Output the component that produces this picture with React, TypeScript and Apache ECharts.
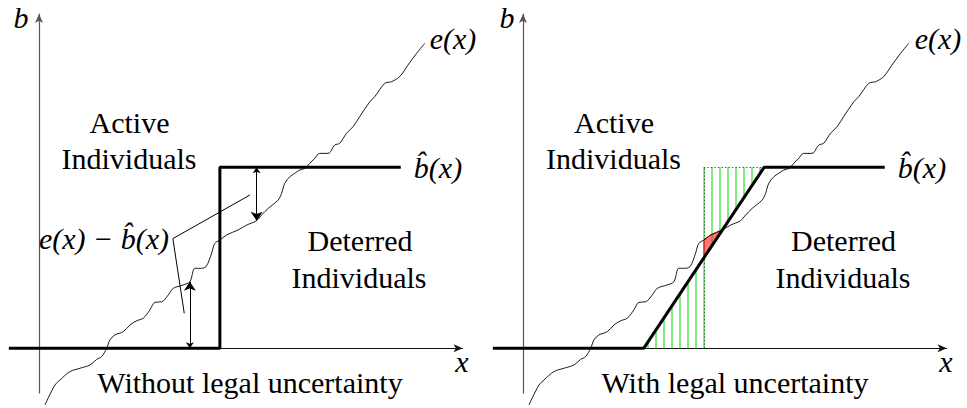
import React, { useEffect, useRef } from "react";
import * as echarts from "echarts";

// e(x): noisy rising curve (diagram units: b-hat step = 100)
const eX = [3.3, 8.8, 11.6, 17.1, 22.7, 28.2, 31.9, 34.6, 37.4, 39.2, 42.0, 46.6, 50.3, 54.0, 57.6, 61.3, 64.1, 67.8, 71.4, 74.2, 79.7, 83.4, 86.2, 89.0, 92.3, 95.4, 97.2, 100.0, 103.7, 110.1, 114.8, 120.3, 123.0, 126.7, 132.2, 134.1, 135.9, 138.7, 141.4, 144.2, 147.0, 149.7, 152.5, 155.2, 159.8, 163.5, 166.3, 170.0, 173.6, 177.3, 182.9, 185.6, 191.2, 194.9, 199.4, 204.0, 208.7, 213.3];
const eY = [-31.3, -20.3, -17.5, -12.9, -11.0, -9.2, -6.1, -4.6, 0, 4.6, 7.4, 9.2, 12.9, 15.2, 16.6, 21.2, 25.4, 25.7, 29.4, 33.1, 35.0, 36.8, 44.2, 44.2, 45.1, 52.5, 58.0, 59.8, 62.6, 65.4, 68.1, 70.5, 73.6, 77.3, 81.9, 85.6, 91.2, 94.8, 96.7, 98.5, 99.4, 102.2, 105.0, 107.7, 107.7, 112.3, 113.3, 118.8, 122.4, 128.0, 136.2, 139.0, 146.4, 147.3, 150.1, 156.5, 162.9, 168.5];

// b-hat without legal uncertainty (step)
const stepX = [-16.6, 100, 100, 200];
const stepY = [0, 0, 100, 100];
// b-hat with legal uncertainty (ramp)
const rampX = [-16.6, 66.7, 133.3, 200];
const rampY = [0, 0, 100, 100];

// threshold and hatching positions (right panel)
const cutoffX = 100;
const topB = 100;
const hatchX = [69.1, 73.5, 77.9, 82.3, 86.7, 91.2, 95.6, 104.4, 108.8, 113.3, 117.7, 122.1, 126.5, 130.9];
const redFromX = 100;
const redToX = 110.1;

// annotation arrows (left panel): [x, from, to]
const gapArrows = [
  [83.4, 0, 36.8],
  [120.3, 100, 70.5],
];
const leaderX = [116.6, 74, 80.3];
const leaderY = [84.7, 60.6, 19.3];

// axis extents
const X_MIN = -16.6;
const X_MAX = 234.2;
const Y_MIN = -24.7;
const Y_MAX = 184.7;

const interp = (xs: number[], ys: number[], x: number) => {
  for (let i = 0; i < xs.length - 1; i++) {
    if (x >= xs[i] && x <= xs[i + 1]) {
      const d = xs[i + 1] - xs[i];
      if (d === 0) return ys[i + 1];
      return ys[i] + ((x - xs[i]) / d) * (ys[i + 1] - ys[i]);
    }
  }
  return ys[ys.length - 1];
};

const zip = (xs: number[], ys: number[]) => xs.map((x, i) => [x, ys[i]]);

const UPRIGHT = '30px "Liberation Serif"';
const ITALIC = 'italic 30px "Liberation Serif"';

export default function App() {
  const ref = useRef<HTMLDivElement>(null);
  useEffect(() => {
    document.body.style.margin = "0";
    if (!ref.current) return;
    const chart = echarts.init(ref.current, undefined, { renderer: "svg" });

    const label = (text: string, x: number, y: number, font: string) => ({
      type: "text",
      x,
      y,
      silent: true,
      z: 100,
      style: {
        text,
        fill: "#000",
        font,
        align: "center",
        verticalAlign: "middle",
        textAlign: "center",
        textVerticalAlign: "middle",
      },
    });
    const words = (t: string, x: number, y: number) => label(t, x, y, UPRIGHT);
    const math = (t: string, x: number, y: number) => label(t, x, y, ITALIC);
    const eLab = "e(x)";
    const bLab = "b\u0302(x)";

    const axisX = (gi: number) => ({
      type: "value",
      gridIndex: gi,
      min: X_MIN,
      max: X_MAX,
      axisLine: {
        show: true,
        onZero: true,
        symbol: ["none", "arrow"],
        symbolSize: [6, 9],
        lineStyle: { color: "#111", width: 1 },
      },
      axisTick: { show: false },
      axisLabel: { show: false },
      splitLine: { show: false },
    });
    const axisY = (gi: number) => ({
      type: "value",
      gridIndex: gi,
      min: Y_MIN,
      max: Y_MAX,
      axisLine: {
        show: true,
        onZero: true,
        symbol: ["none", "arrow"],
        symbolSize: [6, 9],
        lineStyle: { color: "#555", width: 1.2 },
      },
      axisTick: { show: false },
      axisLabel: { show: false },
      splitLine: { show: false },
    });

    const eData = zip(eX, eY);
    const eSeries = (gi: number) => ({
      type: "line",
      xAxisIndex: gi,
      yAxisIndex: gi,
      data: eData,
      symbol: "none",
      smooth: 0.35,
      clip: false,
      z: 5,
      lineStyle: { color: "#000", width: 0.9 },
    });

    // hatch lines
    const hatch: any[] = hatchX.map((x) => {
      const r = interp(rampX, rampY, x);
      return x < cutoffX ? { coords: [[x, 0], [x, r]] } : { coords: [[x, r], [x, topB]] };
    });
    hatch.push({ coords: [[cutoffX, 0], [cutoffX, topB]] });

    // red region polygon
    const redPts: number[][] = [[redFromX, interp(rampX, rampY, redFromX)]];
    redPts.push([redFromX, interp(eX, eY, redFromX)]);
    eX.forEach((x, i) => {
      if (x > redFromX && x < redToX) redPts.push([x, eY[i]]);
    });
    redPts.push([redToX, interp(rampX, rampY, redToX)]);

    const option: any = {
      animation: false,
      grid: [
        { left: 9, top: 14, width: 453.6, height: 379 },
        { left: 493, top: 14, width: 453.6, height: 379 },
      ],
      xAxis: [axisX(0), axisX(1)],
      yAxis: [axisY(0), axisY(1)],
      series: [
        // left panel
        eSeries(0),
        {
          type: "line",
          xAxisIndex: 0,
          yAxisIndex: 0,
          data: zip(stepX, stepY),
          symbol: "none",
          clip: false,
          z: 4,
          lineStyle: { color: "#000", width: 3 },
        },
        {
          type: "lines",
          coordinateSystem: "cartesian2d",
          xAxisIndex: 0,
          yAxisIndex: 0,
          symbol: ["arrow", "arrow"],
          symbolSize: [6, 9],
          z: 6,
          itemStyle: { color: "#000" },
          lineStyle: { color: "#000", width: 1, opacity: 1 },
          data: gapArrows.map((a) => ({ coords: [[a[0], a[1]], [a[0], a[2]]] })),
        },
        {
          type: "line",
          xAxisIndex: 0,
          yAxisIndex: 0,
          data: zip(leaderX, leaderY),
          symbol: "none",
          z: 6,
          lineStyle: { color: "#000", width: 1 },
        },
        // right panel
        {
          type: "lines",
          coordinateSystem: "cartesian2d",
          xAxisIndex: 1,
          yAxisIndex: 1,
          z: 2,
          lineStyle: { color: "#5fe85f", width: 1.6, opacity: 1 },
          data: hatch,
        },
        {
          type: "lines",
          coordinateSystem: "cartesian2d",
          xAxisIndex: 1,
          yAxisIndex: 1,
          z: 3,
          lineStyle: { color: "#333", width: 0.8, type: [1.5, 2], opacity: 1 },
          data: [
            { coords: [[cutoffX, 0], [cutoffX, topB]] },
            { coords: [[cutoffX, topB], [rampX[2], topB]] },
          ],
        },
        {
          type: "custom",
          xAxisIndex: 1,
          yAxisIndex: 1,
          z: 4,
          data: [0],
          renderItem: (_p: any, api: any) => ({
            type: "polygon",
            shape: { points: redPts.map((p) => api.coord(p)) },
            style: { fill: "rgba(255,30,30,0.6)", stroke: "#ff0000", lineWidth: 0.8 },
          }),
        },
        { ...eSeries(1), z: 6 },
        {
          type: "line",
          xAxisIndex: 1,
          yAxisIndex: 1,
          data: zip(rampX, rampY),
          symbol: "none",
          clip: false,
          z: 5,
          lineStyle: { color: "#000", width: 3 },
        },
      ],
      graphic: [
        // left panel
        math("b", 21, 17),
        math(eLab, 453, 38),
        words("Active", 129.5, 122),
        words("Individuals", 129, 158),
        math(bLab, 438, 167),
        math("e(x) \u2212 b\u0302(x)", 104, 238),
        words("Deterred", 360, 240),
        words("Individuals", 359, 277),
        math("x", 462, 361),
        words("Without legal uncertainty", 250, 382),
        // right panel
        math("b", 507, 17),
        math(eLab, 938, 38),
        words("Active", 614, 122),
        words("Individuals", 613.5, 158),
        math(bLab, 922, 167),
        words("Deterred", 843.5, 240),
        words("Individuals", 843, 277),
        math("x", 946, 361),
        words("With legal uncertainty", 735, 382),
      ],
    };
    chart.setOption(option);
    return () => chart.dispose();
  }, []);
  return (
    <div
      ref={ref}
      style={{ position: "absolute", left: 0, top: 0, width: 967, height: 408, background: "#fff" }}
    />
  );
}
